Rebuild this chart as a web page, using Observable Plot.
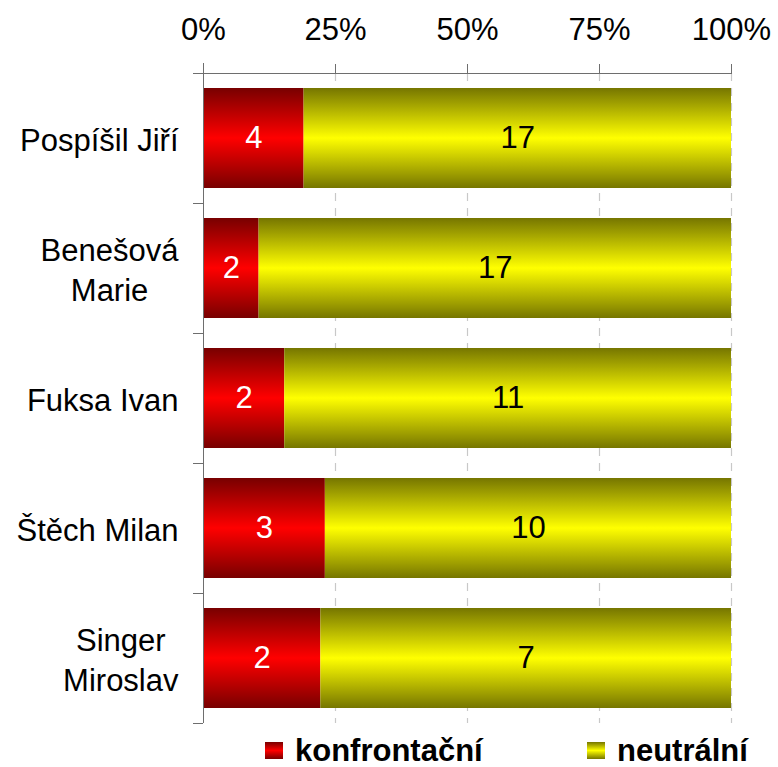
<!DOCTYPE html>
<html><head><meta charset="utf-8">
<script src="https://cdn.jsdelivr.net/npm/d3@7"></script>
<script src="https://cdn.jsdelivr.net/npm/@observablehq/plot@0.6"></script>
<style>
body{margin:0;background:#fff;font-family:"Liberation Sans",Arial,sans-serif}
#wrap{position:relative;width:778px;height:767px;overflow:hidden}
#legend{position:absolute;top:735px;left:0;width:778px;height:32px;font-weight:bold;font-size:31px;line-height:31px;color:#000}
.item{position:absolute;top:0;display:flex;align-items:center;white-space:nowrap}
.sw{width:18px;height:17px;margin-right:12px}
</style></head><body><div id="wrap"><div id="legend"></div></div>
<script>
const names = ["Pospíšil Jiří", "Benešová Marie", "Fuksa Ivan", "Štěch Milan", "Singer Miroslav"];
const nameLabels = ["Pospíšil Jiří", "Benešová\nMarie", "Fuksa Ivan", "Štěch Milan", "Singer\nMiroslav"];
const konfrontacni = [4, 2, 2, 3, 2];
const neutralni = [17, 17, 11, 10, 7];
const seriesNames = ["konfrontační", "neutrální"];
const xTicks = [0, 0.25, 0.5, 0.75, 1];
const xTickLabels = ["0%", "25%", "50%", "75%", "100%"];

const FONT = "Liberation Sans";
const FS = 31;
const gradIds = ["gk", "gn"];
const gradColors = [["#780000", "#ff0000"], ["#767600", "#ffff00"]];
const textColors = ["white", "black"];

const rows = [];
names.forEach((n, i) => {
  rows.push({name: n, s: 0, value: konfrontacni[i]});
  rows.push({name: n, s: 1, value: neutralni[i]});
});

const defsMark = () => {
  const defs = d3.create("svg:defs");
  gradIds.forEach((id, k) => {
    const [dark, bright] = gradColors[k];
    const g = defs.append("linearGradient").attr("id", id)
      .attr("x1", 0).attr("y1", 0).attr("x2", 0).attr("y2", 1);
    g.append("stop").attr("offset", "0%").attr("stop-color", dark);
    g.append("stop").attr("offset", "50%").attr("stop-color", bright);
    g.append("stop").attr("offset", "100%").attr("stop-color", dark);
  });
  return defs.node();
};

const axisLines = (index, scales, values, dims) => {
  const {width, height, marginTop, marginBottom, marginLeft, marginRight} = dims;
  const top = marginTop, bottom = height - marginBottom, left = marginLeft, right = width - marginRight;
  const g = d3.create("svg:g").attr("stroke", "#6e6e6e").attr("fill", "none").attr("shape-rendering", "crispEdges");
  g.append("line").attr("x1", left - 10).attr("x2", right).attr("y1", top).attr("y2", top);
  g.append("line").attr("x1", left).attr("x2", left).attr("y1", top - 10).attr("y2", bottom);
  const y = scales.y;
  const bw = y.bandwidth ? y.bandwidth() : scales.scales.y.bandwidth;
  const step = y.step ? y.step() : scales.scales.y.step;
  const bounds = names.map(n => y(n) - (step - bw) / 2);
  bounds.push(y(names[names.length - 1]) + bw + (step - bw) / 2);
  bounds.forEach(b => g.append("line").attr("x1", left - 10).attr("x2", left).attr("y1", b).attr("y2", b));
  return g.node();
};

const ctx = document.createElement("canvas").getContext("2d");
ctx.font = `${FS}px "${FONT}"`;
const labelMarks = names.map((n, i) => {
  const lines = nameLabels[i].split("\n");
  const w = Math.max(...lines.map(l => ctx.measureText(l).width));
  return Plot.text([n], {
    y: d => d, text: [nameLabels[i]], frameAnchor: "left", textAnchor: "middle",
    dx: -(25 + w / 2), lineHeight: 1.29, fontSize: FS, fill: "black"
  });
});

const chart = Plot.plot({
  width: 778,
  height: 730,
  marginTop: 73,
  marginLeft: 203,
  marginRight: 47,
  marginBottom: 7,
  style: {fontFamily: FONT, fontSize: FS + "px", background: "white", color: "black", overflow: "visible"},
  x: {domain: [0, 1], axis: null, label: null},
  y: {domain: names, paddingInner: 0.23, paddingOuter: 0.115, axis: null, label: null},
  marks: [
    defsMark,
    Plot.gridX(xTicks.slice(1), {stroke: "#c8c8c8", strokeOpacity: 1, strokeWidth: 1.2, strokeDasharray: "8,7"}),
    Plot.barX(rows, Plot.stackX({x: "value", y: "name", offset: "normalize", z: "s",
      fill: d => `url(#${gradIds[d.s]})`})),
    Plot.text(rows, Plot.stackX({x: "value", y: "name", offset: "normalize", z: "s",
      text: d => String(d.value), fill: d => textColors[d.s], fontSize: FS})),
    axisLines,
    Plot.axisX(xTicks, {anchor: "top", label: null, tickSize: 10, tickPadding: 24, stroke: "#6e6e6e", fill: "black",
      fontSize: FS, tickFormat: d => xTickLabels[xTicks.indexOf(d)]}),
    ...labelMarks
  ]
});
const wrap = document.getElementById("wrap");
wrap.insertBefore(chart, wrap.firstChild);

const legend = document.getElementById("legend");
const legendLeft = [265, 587];
seriesNames.forEach((s, k) => {
  const item = document.createElement("div");
  item.className = "item";
  item.style.left = legendLeft[k] + "px";
  const sw = document.createElement("div");
  sw.className = "sw";
  sw.style.background = `linear-gradient(to bottom, ${gradColors[k][0]}, ${gradColors[k][1]}, ${gradColors[k][0]})`;
  const t = document.createElement("span");
  t.textContent = s;
  item.appendChild(sw); item.appendChild(t);
  legend.appendChild(item);
});
</script>
</body></html>
